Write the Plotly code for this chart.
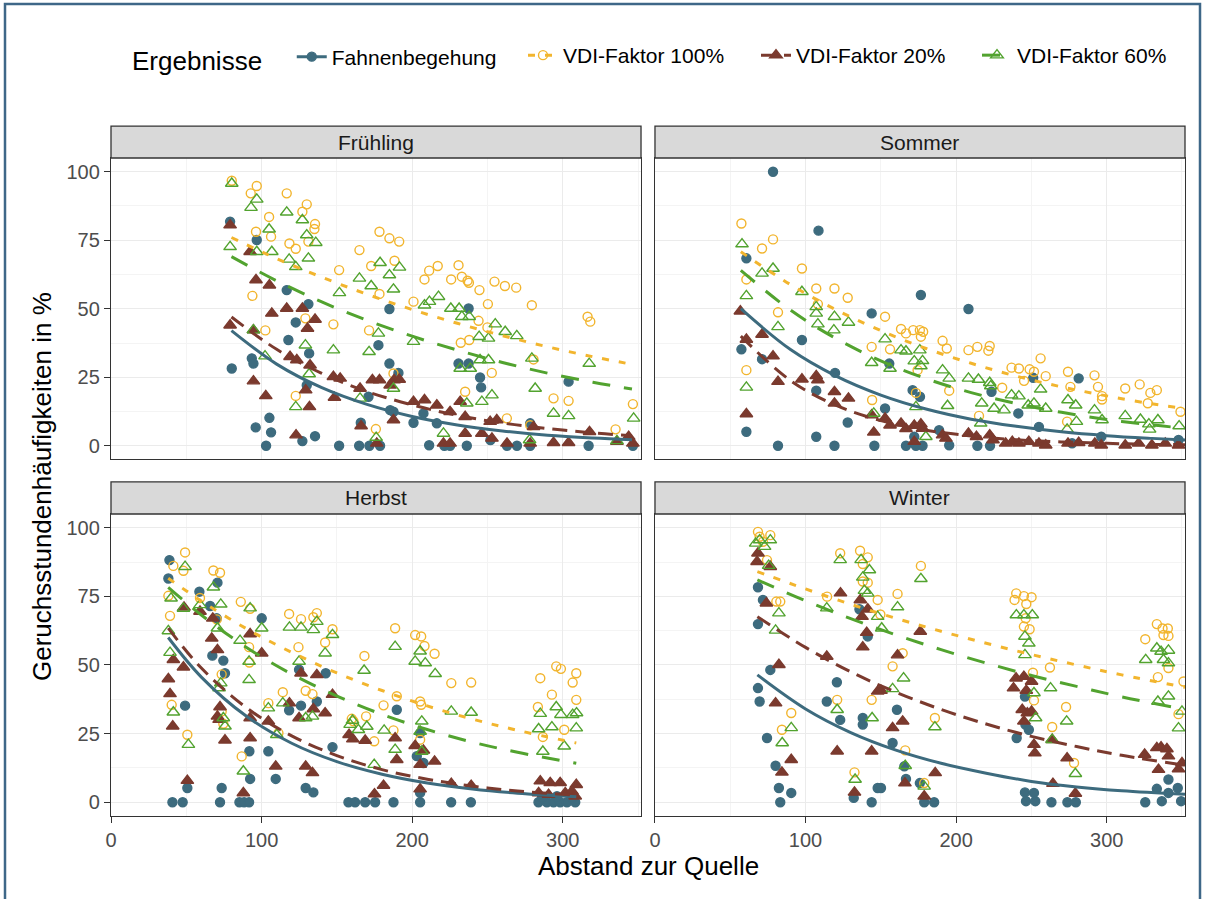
import plotly.graph_objects as go

# ---------------- data ----------------
seasons = ["Frühling", "Sommer", "Herbst", "Winter"]
series_names = ["Fahnenbegehung", "VDI-Faktor 100%", "VDI-Faktor 20%", "VDI-Faktor 60%"]
x_ticks = [0, 100, 200, 300]
y_ticks = [0, 25, 50, 75, 100]

# Frühling points (Abstand, Häufigkeit)
fr_fb = [(79.1,81.8),(96.8,75.1),(116.7,56.8),(131.1,51.7),(122.7,45),(93.5,31.9),(94.6,30),(80.2,28.2),(117.8,38.6),(131.6,33.7),(130,22.1),(105.2,10.2),(96.1,6.7),(106.3,4.9),(103,0),(127.1,1.7),(135.5,3.5),(151.5,0),(164.8,0),(171.6,0),(178.7,0),(165.9,8.4),(171,17.9),(177.6,36.7),(184.9,30),(184.9,49.9),(187.6,12.4),(190.9,26.6),(185.4,13),(200.9,8.4),(207.5,11.8),(216.4,8.2),(211.3,0.2),(221.4,0),(225.2,0),(236.3,0),(230.8,30),(237.5,30),(245.1,24.9),(245.8,21.3),(237.5,50.1),(263,0),(269.6,0),(278.4,8.2),(303.9,23.4),(317.2,0),(346.6,0),(252,2.1),(278.4,0)]
fr_100 = [(80.2,96.7),(96.8,94.8),(92.8,92.1),(116.7,92.1),(130,88.1),(127.1,85.4),(105,83.5),(135.5,80.9),(135.1,79.1),(96.3,78.1),(106.3,76.3),(118.5,73.8),(122.7,71.9),(131.1,74.5),(165,71.4),(178.3,78.1),(184.9,75.7),(151.5,64.1),(172.8,65.6),(188.3,67.5),(178.3,55.4),(93.9,54.7),(147.7,44.3),(129.1,46.5),(102.5,42.1),(171.4,42.1),(122.7,18.2),(175.9,6.1),(187.6,26.4),(191.4,74.5),(208.2,60.7),(211.3,63.9),(217,65.6),(230.8,65.9),(225.9,60.7),(233,61.7),(236.8,60.2),(237.7,59.5),(244.7,56.8),(254.7,59.9),(261.6,58.3),(269.1,57.7),(200.9,52.6),(250.3,51.7),(279.5,51.3),(244.1,45.6),(250,43.2),(237.9,38.6),(232.3,37.6),(280.6,31.5),(252.9,26.6),(235.2,19.7),(293.9,17.3),(303.9,16.4),(316.5,47.1),(318.3,45.3),(346.6,15.2),(335.1,6.0),(262.9,10.0),(278.4,7.5)]
fr_20 = [(79.1,80.5),(92.4,70.8),(96.3,60.5),(105.2,58.6),(106.8,48.3),(116.7,50.1),(127.1,50.1),(135.5,46.1),(130.5,42.8),(79.1,44),(94.6,42.2),(118.9,32.5),(123.4,31.3),(132.2,29.4),(147.7,25.2),(152.2,24.6),(173.6,24),(178.3,24),(165.4,20.9),(185.4,22.1),(94.6,23.6),(102.8,18.2),(129.3,20.3),(131.8,14.2),(148.4,17.6),(166.1,7.2),(122.9,3.9),(176.5,0.9),(187.6,9.4),(188,24),(191.4,24.2),(200.9,16.1),(208.2,16.7),(216.4,14.8),(231.9,16.1),(225.2,12.4),(235.2,10.6),(220.8,0.9),(225.2,0.9),(235.2,4.5),(246.3,4.5),(253,2.7),(263,0.9),(278.4,0.9),(293.9,1.1),(303.9,1.1),(280.6,6.9),(317.8,5.1),(336,1.5),(343.8,3.3),(346.6,0.9),(251.8,8.8),(256.2,9.4)]
fr_60 = [(80.2,95.7),(96.8,89.9),(93,86.9),(116.7,85.2),(127.1,82.4),(105,79),(130,76.9),(136,74.1),(79.1,72.6),(96.8,70.8),(106.8,70.8),(118.3,68),(122.7,65.3),(131.1,68.4),(165,61.1),(172.8,58.3),(151.7,55.8),(178.7,66.8),(184.9,62.3),(187.6,57.1),(94.6,42.2),(102.3,32.7),(129.1,36.7),(147.7,34.9),(171.4,34.3),(131.6,26.2),(187.6,20.9),(165.4,17.3),(122.7,14.2),(176.1,3.0),(177.6,41),(191.6,65.1),(200.9,38),(208.2,51.3),(211.5,52.6),(217.5,54.4),(225.7,50.1),(231.2,50.1),(233,47.1),(237.9,47.1),(244.5,39.8),(250.7,39.2),(255.2,44.4),(261.8,41.6),(269.5,40.1),(279.5,31.9),(231.9,28.2),(238.6,28.2),(250.7,31.3),(245.1,31.3),(236.3,15.5),(246.3,16.1),(253,18.5),(281.7,20.9),(293.9,11.8),(303.9,10.9),(317.6,30),(220.8,4.5),(278,2.1),(347.1,10),(336,1.8)]

# Sommer points
so_fb = [(78.4,100),(108.6,78.5),(60.7,68.4),(57.4,35.2),(71.1,31.6),(97.6,38.6),(60.7,5.1),(81.7,0),(107.1,3.3),(119.2,0),(143.9,48.3),(119.6,26.6),(107.1,20.1),(128,8.5),(145.7,0),(152.8,13.6),(155.6,30),(166.7,0),(173.3,0),(177.7,0),(176.6,55),(171.1,20.3),(176,17.9),(172.2,3.3),(208.2,49.9),(251.2,24.8),(281.4,24.6),(223.5,19.7),(241.3,11.8),(255,6.9),(296.4,3.3),(195.4,0.2),(214.1,0),(222.5,0),(277,0.9),(347.7,2.1),(188.7,5.7)]
so_100 = [(57.4,81.1),(60.7,60.7),(71.1,72),(78.4,75.3),(81.7,48.7),(97.6,64.7),(107.1,57.4),(119.2,57.4),(128,54),(108.2,51.7),(60.7,27.6),(143.9,36.1),(152.8,47.1),(156.1,35.2),(163.4,42.6),(166.7,41),(171.5,42.2),(175.9,42.2),(178.1,41.6),(176.6,39.8),(144.2,16.7),(173.3,19.3),(191,38.3),(193.8,35.5),(174.4,27.6),(208.2,34.9),(214.1,36.1),(222.3,36.4),(221.4,34.7),(236.8,28.5),(241.7,28.2),(248.8,27.9),(251.7,27),(245.1,23.7),(256.1,31.9),(259.5,25.4),(274.3,27),(275.9,21.5),(291.9,25.7),(294.2,21.5),(296.9,18.1),(296.9,16.9),(312.3,20.9),(321.9,22.4),(329,19.3),(333.3,20.3),(327.3,15.5),(349,12.4),(195.4,20.1),(215.2,10.9),(230.6,21.2),(273.7,8.8)]
so_20 = [(56.7,49.1),(60.7,38.8),(60.7,11.6),(71.1,40.6),(78.4,32.7),(81.7,23.4),(97.6,24.3),(107.1,25.5),(108.2,24),(119.2,19.7),(128.5,17.3),(119.2,15.5),(143.9,11.2),(145.3,4.9),(152.8,10),(156.1,7.5),(163.4,8.2),(166.7,6.2),(172.2,7.4),(176.6,7.9),(177.7,6.3),(172.2,1.5),(191,3.9),(193.2,2.7),(208.2,4.5),(213.5,3.3),(222.3,3.9),(224.5,2.1),(232.9,0.9),(237.3,1.5),(241.7,0.9),(248.3,1.5),(255,0.9),(259.5,0.2),(274.3,0.9),(281.4,1.1),(292.1,0.9),(296.4,0.2),(312.3,0.2),(321.2,0.9),(330,0.2),(338.9,0.9),(347.7,0.2)]
so_60 = [(57.8,73.6),(60.7,54.7),(60.7,21.3),(71.1,62.9),(78.4,64.7),(81.7,43.4),(97.6,56.2),(107.1,50.7),(107.1,48.3),(108.2,44.4),(119.2,47.1),(118.8,42.2),(128.5,45),(143.9,30.3),(152.8,38.9),(156.1,28.2),(163.4,34.9),(166.7,34.5),(172.2,30.9),(175.9,34.9),(177.7,31),(176.6,29.1),(191,27.6),(194.3,14.6),(173.3,14.2),(145.3,11.8),(179.9,3.3),(195.4,24.6),(208.2,24.6),(214.8,24.2),(222.3,23),(223,21.8),(217,15.5),(225.2,13.6),(231.8,13),(236.8,18.5),(241.7,18.1),(247.9,14.8),(251.7,15.5),(256.1,20.6),(259.5,13.6),(274.3,16.7),(279.4,14.8),(279.9,8.8),(291.9,13),(296.9,9.4),(312.3,10.9),(322.4,9.6),(328,7.9),(334,9.4),(328.5,6),(348.1,7.2),(216.3,8.2),(273.7,6)]

# Herbst points
he_fb = [(38.8,88.2),(38.1,81.5),(58.7,76.7),(70.7,80),(65.8,71.5),(70.2,67),(100.1,67),(67.3,53.4),(74.6,51.6),(75.7,47),(49.2,35.2),(124.9,48.3),(142.6,47),(126.2,35.2),(136.7,36.7),(118.3,33.5),(104.5,18.6),(91.9,18.6),(109.4,8.5),(92.4,8.5),(73.5,5.2),(50.7,5.2),(129.3,5.2),(134.4,3.6),(147.1,20.1),(40.8,0),(47.6,0),(72.4,0),(85.3,0),(88.4,0),(91.7,0),(157.7,0),(162.1,0),(168.8,0),(175.4,0),(187.6,0),(189.8,33.7),(205.3,25.2),(203.1,16.8),(207.5,14.3),(205.3,0),(225.9,0),(239,0),(283.9,0),(289.5,0),(293.9,0),(298.3,0),(302.8,0),(308.3,0),(286.2,1.6),(296.2,2.2),(306.1,1.6),(205.3,3.4)]
he_100 = [(49.2,91),(41.4,86.1),(48.1,84.3),(38.1,75.2),(39.2,67.9),(68,84.4),(72.4,83.6),(59.1,74.4),(86.2,73),(70.2,66.6),(92.4,70.5),(118.3,68.6),(126.2,66.7),(134.4,67.4),(136.7,68.9),(142.2,58.2),(147.1,63),(91.7,56.5),(124.5,56.5),(91.9,50.9),(73.5,46.6),(114.1,40.1),(104.5,36.1),(129.3,40.6),(133.8,39.4),(159.9,30.4),(161,29.5),(169.4,31.3),(168.3,53.3),(181,35.3),(188.7,63.4),(189.8,38.6),(187.6,26.2),(174.8,22.2),(40.3,35.5),(50.7,24.6),(73.5,33.1),(74.6,28.6),(86.8,16.7),(111.2,25.2),(202,60.9),(206,60.4),(208.2,56.9),(214.9,54.1),(226,43.4),(239.2,43.6),(205.3,36.7),(206,35.5),(205.3,22.8),(285.1,45.2),(292.8,39.2),(295.7,49.5),(298.8,48.6),(309,47),(306.6,43.6),(309,37.3),(283.5,34.7),(286.8,23.8),(301,26.4)]
he_20 = [(48.5,71),(38.1,44.9),(39.2,39.5),(41.4,51.9),(41,27.7),(48.1,49.2),(50.7,7.9),(59.1,69.5),(66.9,59.7),(70.7,55.5),(67.6,67),(72.4,34.7),(70.7,31.3),(71.8,30.1),(75.7,22.6),(92.4,61.3),(92.4,30.7),(92.4,23.4),(100.1,54.3),(104.5,29.5),(109.4,13.1),(118.5,36.1),(126.2,47),(136.7,46.4),(134.4,34),(142.2,32.5),(147.1,39.2),(129.3,13.1),(133.8,10.7),(124.9,30.7),(158.1,24.6),(160.6,23),(168.8,22.5),(175,3),(181,6.1),(188.7,23.4),(189.8,15.5),(87.9,3.4),(202,20.6),(207.5,18.9),(214.9,14.9),(205.3,13.7),(226,6.8),(239.2,6.1),(285.1,7.7),(291.7,7.1),(298.3,7.1),(309,6.4),(284,3.4),(290.6,2.8),(301.7,3.4),(306.1,4),(308.3,2.2),(205.3,4.8)]
he_60 = [(49.2,85.8),(38.1,62.4),(39.9,74.3),(39.2,54.5),(41.4,32.8),(51.4,21),(48.1,70.6),(68,78.3),(72.9,72.1),(59.1,71.9),(92.4,70.7),(85.7,58.9),(100.1,63.4),(70.7,63.4),(91.7,51.3),(91.7,44.6),(72.9,43.4),(71.8,41.6),(74.6,30.7),(75.7,27.7),(87.9,11.3),(118.5,63.7),(126.2,63.7),(134.4,62.8),(136.7,65.8),(142.2,54.3),(147.1,61),(124.9,51.3),(168.1,48),(104.5,34.3),(114.1,36.1),(129.3,30.7),(133.8,31.3),(158.8,28.3),(160.4,29.8),(164.3,26.4),(169.9,27.6),(181.4,26.2),(188.7,56.7),(188.7,19.2),(174.8,13.7),(110.1,24.6),(205.3,55),(202,51.3),(208.7,50.7),(215.3,46.8),(226,33.1),(239.2,32.7),(206.4,29.5),(205.3,25.8),(206.4,18.5),(285.1,32.3),(284,26.7),(292.8,27.4),(295.7,34.7),(298.8,31.9),(306.6,31.9),(309.2,32.5),(309,27),(286.8,18.5),(301,20.4)]

# Winter points
wi_fb = [(68.4,78.3),(71.7,73.7),(68.4,64.9),(76.6,48.2),(68.4,41.6),(69.5,36.7),(74.4,23.4),(80.1,13.3),(82.3,5.2),(90.5,3.4),(83.2,0),(120.8,43.7),(114.1,36.7),(123,30),(138,30.7),(138,28.3),(141.3,60.4),(135.8,70.3),(147.9,5.2),(150.1,5.2),(132,1.6),(143.9,0),(160.7,33.7),(157.8,21.6),(165.6,13.1),(166.7,8.5),(175.9,7),(178.8,0),(185.4,0),(245.7,38.5),(240.2,23.4),(246,28.3),(248.3,26.4),(245.7,3.6),(251.7,3.4),(246.4,0.4),(252.6,0.4),(263.3,0),(273.9,0),(279.5,0),(325.6,0),(333.3,4.9),(336.6,0.4),(341,8.3),(341,3.4),(347.2,5.2),(349.4,0.4)]
wi_100 = [(68.4,98.5),(69.5,96.7),(71.7,94.9),(76.6,97.3),(74.4,88.2),(80.6,73.1),(83.2,73.1),(90.5,32.5),(84.3,26.4),(123,90.7),(136.2,91.6),(141.3,89.2),(138,86.8),(138,80.4),(141.3,80),(147.9,73.7),(114.3,74.9),(161.1,75.9),(176.6,86.1),(149.7,68.4),(157.8,49.5),(164.5,54.3),(143.9,37.3),(121,37.3),(185.9,30.7),(166.2,18.9),(132.5,10.9),(178.8,7),(239.9,76.1),(245,75.1),(250.1,74.7),(238.8,73.7),(246.6,72.2),(246.2,67),(245,64),(248.8,63),(251,47.2),(262.3,49.1),(251.7,37.1),(273,34.7),(263.8,27.4),(278.3,14.3),(333.3,64.9),(337.1,63.3),(340.6,63.3),(337.7,60.9),(341,60.6),(325.6,59.4),(341,48.9),(334,45.6),(347.7,32.1),(351,44)]
wi_20 = [(68.4,90.7),(67.8,87.6),(76.6,85.8),(74,72.5),(82.3,50.1),(80.1,36.1),(90.5,15.5),(84.3,10.9),(123.2,76.2),(136.4,73.7),(137.5,67.6),(141.3,70.3),(140.6,61.8),(138,56.5),(161.1,53.6),(164.5,29.5),(157.8,27.1),(176.2,62.2),(114.1,53.1),(147.9,40.4),(150.1,40.7),(121,18.6),(143.9,18.6),(186.1,10.7),(166,7),(132.5,3.6),(178.8,2.2),(239.8,45.2),(245,45.8),(250.1,44),(238.1,41.6),(246.6,40.7),(243.9,33.7),(247.3,32.5),(250.1,33.1),(245,29.5),(251.7,21),(252.3,17.9),(263.8,22.8),(273.7,16.1),(264.3,6.8),(279.2,3.2),(325.2,17.4),(333.3,19.8),(336.1,20.1),(340,19.4),(341,16.8),(334.4,11.9),(347.7,12.1),(350,14.3)]
wi_60 = [(66.9,94.3),(69.5,95.5),(72.8,93.1),(76.6,95.5),(75.5,86.2),(82.3,68.9),(80.1,62.6),(84.5,21.6),(90.5,27.1),(123,88.3),(136.9,88.3),(142.4,84.6),(138,81.9),(139.1,77.1),(141.3,76.1),(147.9,67.6),(150.6,63.4),(114.1,70.7),(161.1,71.1),(176.6,81.4),(165.1,45.2),(157.8,41.3),(144.2,30.7),(121,33.7),(185.9,27.4),(166.2,13.3),(132.9,8.3),(178.8,5.8),(240,68.2),(245,68.2),(250.6,68.2),(245.7,60.4),(248.3,57.9),(245.7,53.7),(251.7,39.8),(262.7,41.6),(252.8,30.7),(273.4,29.5),(263.8,22.8),(279.2,10.4),(325.9,51.9),(333.3,56.1),(336.1,54.9),(341,55.3),(337.7,51.9),(341,50.7),(334,36.7),(341,38.6),(347.7,27),(350,33.1)]

# fitted trend curves at a few distances
fr_fit_x = [80, 110, 140, 170, 200, 230, 260, 290, 320, 346]
fr_fit_fb = [42, 29.8, 21.2, 15.1, 10.7, 7.6, 5.4, 3.8, 2.8, 2.2]
fr_fit_100 = [76, 68.3, 61.5, 55.3, 49.7, 44.7, 40.2, 36.1, 32.5, 29.7]
fr_fit_20 = [47, 35.2, 26.4, 19.8, 14.9, 11.1, 8.3, 6.3, 4.7, 3.7]
fr_fit_60 = [69, 60.2, 52.5, 45.8, 40.0, 34.9, 30.4, 26.5, 23.2, 20.7]

so_fit_x = [57, 90, 120, 150, 180, 210, 240, 270, 300, 330, 352]
so_fit_fb = [50, 35.1, 25.5, 18.5, 13.4, 9.7, 7.1, 5.1, 3.7, 2.7, 2.1]
so_fit_100 = [70.8, 58.8, 49.7, 42.0, 35.5, 30.1, 25.4, 21.5, 18.2, 15.3, 13.6]
so_fit_20 = [40, 23.8, 14.8, 9.2, 5.7, 3.6, 2.2, 1.4, 0.9, 0.5, 0.4]
so_fit_60 = [64, 49.5, 39.2, 31.0, 24.5, 19.4, 15.4, 12.2, 9.6, 7.6, 6.4]

he_fit_x = [38, 60, 90, 120, 150, 180, 210, 240, 270, 309]
he_fit_fb = [60, 45.6, 31.3, 21.5, 14.8, 10.2, 7.0, 4.8, 3.3, 2.0]
he_fit_100 = [81.6, 73.3, 63.2, 54.6, 47.1, 40.7, 35.1, 30.3, 26.2, 21.6]
he_fit_20 = [63.4, 48.9, 34.4, 24.2, 17.0, 11.9, 8.4, 5.9, 4.1, 2.6]
he_fit_60 = [78.3, 68.2, 56.4, 46.7, 38.7, 32.0, 26.5, 21.9, 18.2, 14.2]

wi_fit_x = [68, 100, 130, 160, 190, 220, 250, 280, 310, 352]
wi_fit_fb = [46.4, 34.0, 25.4, 19.0, 14.2, 10.6, 7.6, 5.6, 4.2, 2.9]
wi_fit_100 = [84, 77.7, 72.1, 67.0, 62.3, 57.9, 53.8, 50.0, 46.4, 41.9]
wi_fit_20 = [67.6, 56.4, 47.5, 40.1, 33.8, 28.5, 24.0, 20.3, 17.1, 13.5]
wi_fit_60 = [81, 73.4, 66.9, 61.0, 55.6, 50.7, 46.2, 42.2, 38.4, 33.8]

# ---------------- styling ----------------
FONT = "Liberation Sans, Arial, sans-serif"
COLORS = ["#3D6B7E", "#F2B52E", "#7B3A2E", "#52A32F"]
SYMBOLS = ["circle", "circle-open", "triangle-up", "triangle-up-open"]
MSIZE = [9, 9, 11, 11]
DASHES = ["solid", "7px,10px", "15px,8px", "18px,14px"]
LEGEND_IDS = ["legend", "legend2", "legend3", "legend4"]
LEGEND_X = [0.0177, (523 - 111) / 1074, (756 - 111) / 1074, (977 - 111) / 1074]
LEGEND_Y = [1.1 - 1.5 / 690, 1.1 + 1.5 / 690, 1.1 + 1.5 / 690, 1.1 + 1.5 / 690]

panel_points = [
    [fr_fb, fr_100, fr_20, fr_60],
    [so_fb, so_100, so_20, so_60],
    [he_fb, he_100, he_20, he_60],
    [wi_fb, wi_100, wi_20, wi_60],
]
panel_fits = [
    (fr_fit_x, [fr_fit_fb, fr_fit_100, fr_fit_20, fr_fit_60]),
    (so_fit_x, [so_fit_fb, so_fit_100, so_fit_20, so_fit_60]),
    (he_fit_x, [he_fit_fb, he_fit_100, he_fit_20, he_fit_60]),
    (wi_fit_x, [wi_fit_fb, wi_fit_100, wi_fit_20, wi_fit_60]),
]
axes = [("x", "y"), ("x2", "y2"), ("x3", "y3"), ("x4", "y4")]

fig = go.Figure()

# legend entries (line + marker keys)
for s in range(4):
    fig.add_trace(go.Scatter(
        x=[None], y=[None], mode="lines+markers", name=series_names[s],
        legendgroup=series_names[s], showlegend=True, legend=LEGEND_IDS[s],
        line=dict(color=COLORS[s], width=3, dash=DASHES[s]),
        marker=dict(symbol=SYMBOLS[s], color=COLORS[s], size=MSIZE[s],
                    line=dict(color=COLORS[s], width=1.4)),
        xaxis="x", yaxis="y"))

for p in range(4):
    xa, ya = axes[p]
    for s in range(4):
        pts = panel_points[p][s]
        fig.add_trace(go.Scatter(
            x=[a for a, b in pts], y=[b for a, b in pts], mode="markers",
            legendgroup=series_names[s], showlegend=False, name=series_names[s],
            legend=LEGEND_IDS[s],
            marker=dict(symbol=SYMBOLS[s], color=COLORS[s], size=MSIZE[s],
                        line=dict(color=COLORS[s], width=1.4)),
            xaxis=xa, yaxis=ya))
    fx, fys = panel_fits[p]
    for s in range(4):
        fig.add_trace(go.Scatter(
            x=fx, y=fys[s], mode="lines", line_shape="spline",
            legendgroup=series_names[s], showlegend=False, name=series_names[s],
            legend=LEGEND_IDS[s],
            line=dict(color=COLORS[s], width=3, dash=DASHES[s]),
            xaxis=xa, yaxis=ya))

XL = [0, 0.4935]
XR = [0.5065, 1]
YT = [0.5167, 0.9536]
YB = [0, 0.4377]
xdoms = [XL, XR, XL, XR]
ydoms = [YT, YT, YB, YB]

def xaxis_cfg(dom, anchor, bottom):
    return dict(domain=dom, anchor=anchor, range=[0, 352], tickvals=x_ticks,
                showgrid=True, gridcolor="#EBEBEB", gridwidth=1.2,
                minor=dict(dtick=50, tick0=0, showgrid=True, gridcolor="#F4F4F4", gridwidth=0.7),
                zeroline=False, showline=True, mirror=True, linecolor="#333333", linewidth=1.3,
                ticks="outside" if bottom else "", ticklen=6, tickcolor="#333333", tickwidth=1.2,
                showticklabels=bottom,
                tickfont=dict(family=FONT, size=20, color="#4D4D4D"))

def yaxis_cfg(dom, anchor, left):
    return dict(domain=dom, anchor=anchor, range=[-5, 105], tickvals=y_ticks,
                showgrid=True, gridcolor="#EBEBEB", gridwidth=1.2,
                minor=dict(dtick=12.5, tick0=0, showgrid=True, gridcolor="#F4F4F4", gridwidth=0.7),
                zeroline=False, showline=True, mirror=True, linecolor="#333333", linewidth=1.3,
                ticks="outside" if left else "", ticklen=6, tickcolor="#333333", tickwidth=1.2,
                showticklabels=left,
                tickfont=dict(family=FONT, size=20, color="#4D4D4D"))

layout_axes = {}
for p in range(4):
    xa, ya = axes[p]
    xkey = "xaxis" if xa == "x" else "xaxis" + xa[1:]
    ykey = "yaxis" if ya == "y" else "yaxis" + ya[1:]
    layout_axes[xkey] = xaxis_cfg(xdoms[p], ya, p >= 2)
    layout_axes[ykey] = yaxis_cfg(ydoms[p], xa, p % 2 == 0)

shapes = []
annotations = []
for p in range(4):
    xa, ya = axes[p]
    shapes.append(dict(type="rect", xref=f"{xa} domain", yref=f"{ya} domain",
                       x0=0, x1=1, y0=1.0, y1=1.106, fillcolor="#D9D9D9",
                       line=dict(color="#333333", width=1.3), layer="above"))
    annotations.append(dict(text=seasons[p], xref=f"{xa} domain", yref=f"{ya} domain",
                            x=0.5, y=1.053, showarrow=False, xanchor="center", yanchor="middle",
                            font=dict(family=FONT, size=21, color="#1A1A1A")))

annotations.append(dict(text="Geruchsstundenhäufigkeiten in %", xref="paper", yref="paper",
                        x=-0.0642, y=0.4768, textangle=-90, showarrow=False,
                        xanchor="center", yanchor="middle",
                        font=dict(family=FONT, size=26, color="#000000")))
annotations.append(dict(text="Abstand zur Quelle", xref="paper", yref="paper",
                        x=0.5, y=-0.0725, showarrow=False, xanchor="center", yanchor="middle",
                        font=dict(family=FONT, size=26, color="#000000")))

# outer frame of the picture
shapes.append(dict(type="rect", xref="paper", yref="paper",
                   x0=(5 - 111) / 1074, x1=(1200 - 111) / 1074,
                   y0=(816 - 920) / 690, y1=(816 - 4) / 690,
                   line=dict(color="#3E6788", width=2.5), fillcolor="rgba(0,0,0,0)", layer="below"))

legends = {}
for s in range(4):
    cfg = dict(orientation="h", x=LEGEND_X[s], xanchor="left", y=LEGEND_Y[s], yanchor="middle",
               font=dict(family=FONT, size=21, color="#000000"),
               bgcolor="rgba(0,0,0,0)")
    if s == 0:
        cfg["title"] = dict(text="Ergebnisse\u00a0\u00a0\u00a0",
                            font=dict(family=FONT, size=26, color="#000000"), side="left")
    legends[LEGEND_IDS[s]] = cfg

fig.update_layout(
    width=1206, height=899,
    margin=dict(l=111, r=21, t=126, b=83),
    paper_bgcolor="white", plot_bgcolor="white",
    font=dict(family=FONT, color="#000000"),
    shapes=shapes, annotations=annotations,
    **legends,
    **layout_axes,
)

fig.write_html("out.html")
